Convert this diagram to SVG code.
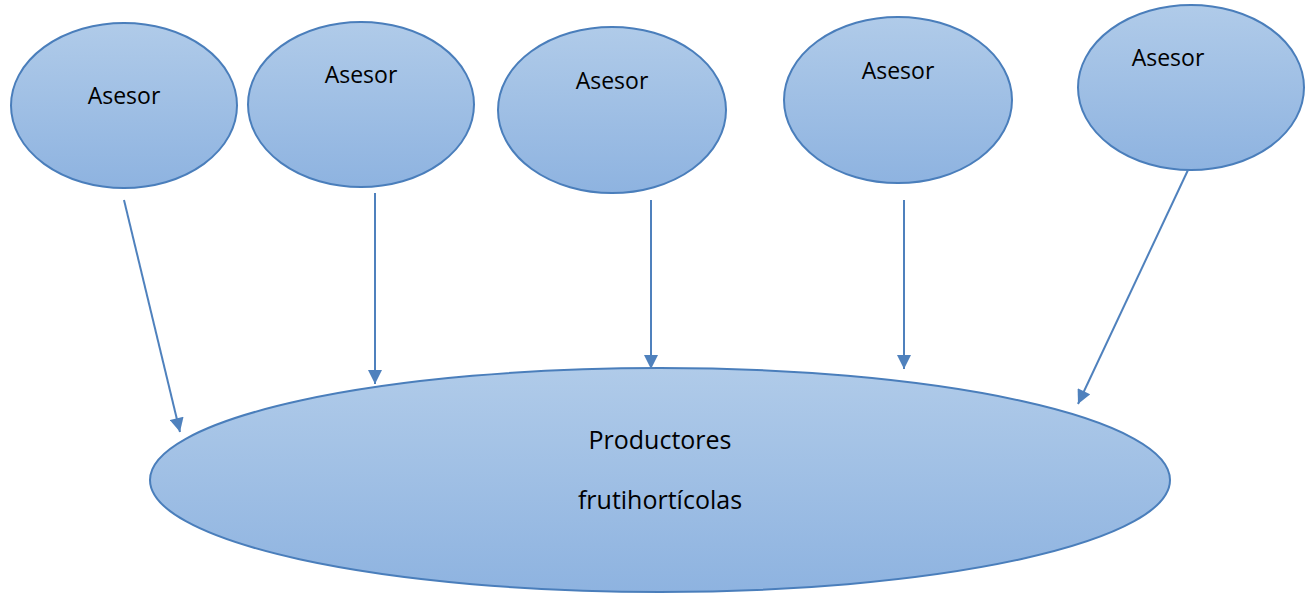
<svg xmlns="http://www.w3.org/2000/svg" width="1307" height="598" viewBox="0 0 1307 598">
<defs>
<linearGradient id="g" x1="0" y1="0" x2="0" y2="1">
<stop offset="0" stop-color="#b0cbe9"/>
<stop offset="1" stop-color="#8eb3e0"/>
</linearGradient>
<marker id="ah" viewBox="0 0 10 10" refX="10" refY="5" markerWidth="7.5" markerHeight="7" orient="auto" markerUnits="strokeWidth">
<path d="M0,0 L10,5 L0,10 z" fill="#4f81bd"/>
</marker>
</defs>
<style>
.n{fill:url(#g);stroke:#4a7ebb;stroke-width:2}
.t{font-family:"Open Sans","Liberation Sans",sans-serif;font-size:23px;fill:#000;text-anchor:middle}
.p{font-size:25px}
.c{stroke:#4f81bd;stroke-width:2;fill:none;marker-end:url(#ah)}
</style>
<rect width="1307" height="598" fill="#fff"/>
<g id="asesor1"><ellipse class="n" cx="124" cy="105.5" rx="113" ry="82.5"/><text class="t" x="124" y="104">Asesor</text></g>
<g id="asesor2"><ellipse class="n" cx="361" cy="104.5" rx="113" ry="82.5"/><text class="t" x="361" y="83">Asesor</text></g>
<g id="asesor3"><ellipse class="n" cx="612" cy="110" rx="114" ry="83"/><text class="t" x="612" y="89">Asesor</text></g>
<g id="asesor4"><ellipse class="n" cx="898" cy="100" rx="114" ry="83"/><text class="t" x="898" y="79">Asesor</text></g>
<g id="asesor5"><ellipse class="n" cx="1191" cy="87.5" rx="113" ry="82.5"/><text class="t" x="1168" y="66">Asesor</text></g>
<g id="productores"><ellipse class="n" cx="660" cy="480" rx="510" ry="112"/>
<text class="t p" x="660" y="449">Productores</text>
<text class="t p" x="660" y="509">frutihortícolas</text></g>
<g id="connectors">
<line class="c" x1="124" y1="200" x2="180" y2="432"/>
<line class="c" x1="375" y1="193" x2="375" y2="384"/>
<line class="c" x1="651" y1="200" x2="651" y2="369"/>
<line class="c" x1="904" y1="200" x2="904" y2="369"/>
<line class="c" x1="1188" y1="170" x2="1078" y2="404"/>
</g>
</svg>
